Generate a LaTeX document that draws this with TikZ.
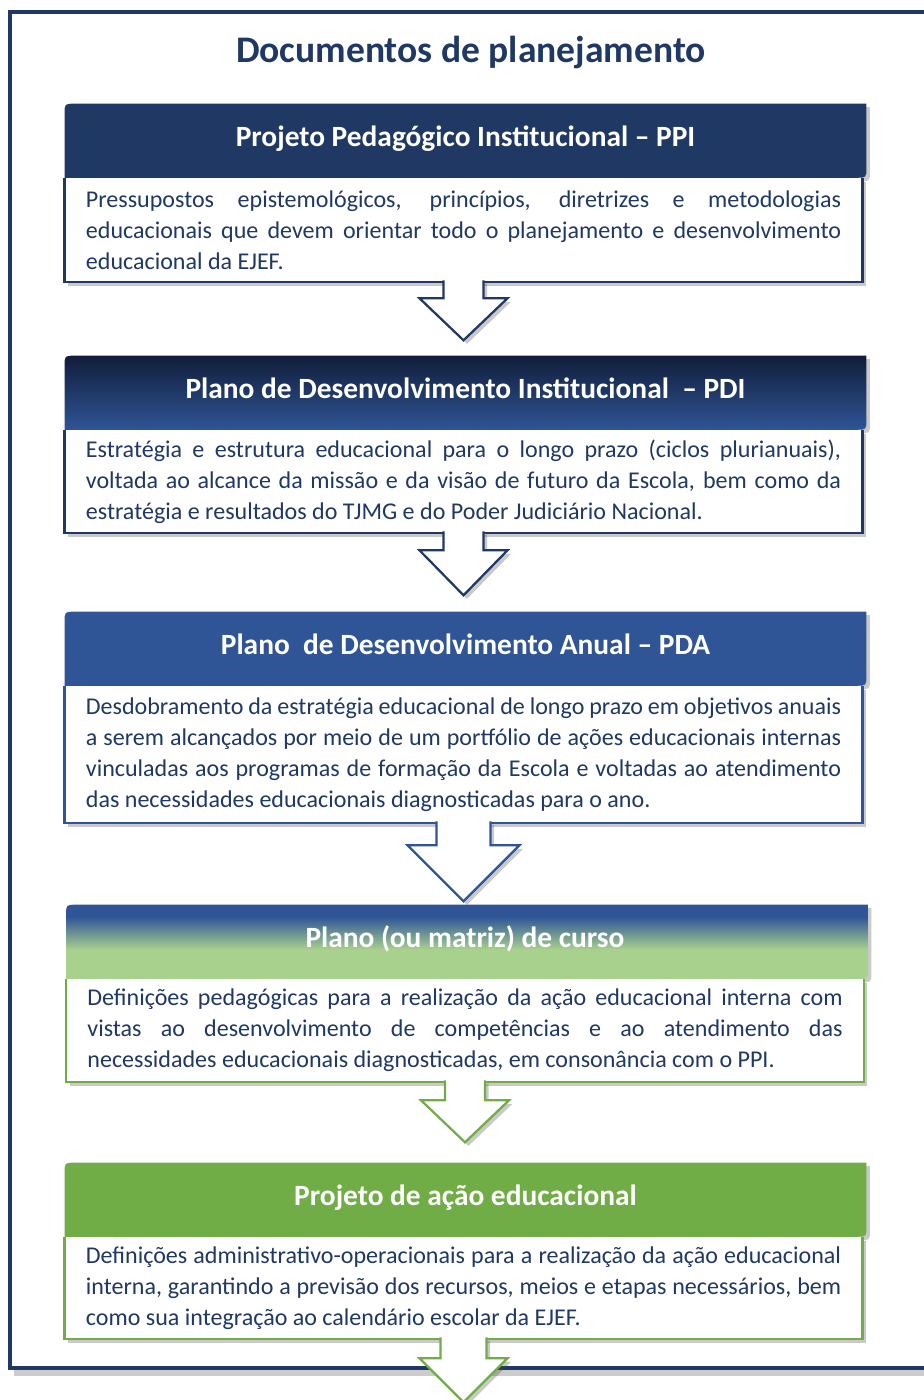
\documentclass[tikz,border=0pt]{standalone}
\usepackage{fontspec}
\setmainfont{Carlito}
\usepackage{tikz}
\usetikzlibrary{calc, shadows, backgrounds}
\definecolor{colNavy}{RGB}{31, 56, 100}
\definecolor{colDeep}{RGB}{17, 29, 58}
\definecolor{colBlue}{RGB}{47, 85, 151}
\definecolor{colGreen}{RGB}{112, 173, 71}
\definecolor{colLight}{RGB}{169, 209, 142}
\pgfdeclareverticalshading{capmix}{100bp}{color(0bp)=(colLight); color(45bp)=(colLight); color(67bp)=(colBlue); color(100bp)=(colBlue)}
\newcommand{\txtfont}{\fontsize{17.1}{22}\selectfont\hyphenpenalty=10000\exhyphenpenalty=10000}

\begin{document}
\begin{tikzpicture}[x=0.025cm, y=-0.025cm,
    soft/.style={drop shadow={shadow xshift=2.5pt, shadow yshift=-2.5pt, opacity=.3, fill=black!70}},
    docbox/.style={soft, fill=white, text=colNavy, text width=18.875cm, inner xsep=0.525cm,
        inner ysep=0pt, align=justify, font=\txtfont},
    captext/.style={white, font=\fontsize{20.9}{24}\selectfont\bfseries, anchor=base},
    ttl/.style={colNavy, font=\fontsize{26.7}{30}\selectfont\bfseries, anchor=base},
    capNavy/.style={soft, fill=colNavy},
    capDeep/.style={soft, top color=colDeep, bottom color=colBlue},
    capBlue/.style={soft, fill=colBlue},
    capMix/.style={soft, shading=capmix},
    capGreen/.style={soft, fill=colGreen},
    flow/.style={soft, draw=#1, fill=white, line width=1.6pt}
]
    \useasboundingbox (0,0) rectangle (924,1400);

    % --- Title ---
    \node[ttl] (title) at (471,63) {Documentos de planejamento};

    % --- Text boxes ---
    \node[docbox, minimum height=2.6cm] (b1) at (463.5,230) {Pressupostos epistemológicos, princípios, diretrizes e metodologias\linebreak educacionais que devem orientar todo o planejamento e desenvolvimento\linebreak educacional da EJEF.};
    \node[docbox, minimum height=2.575cm] (b2) at (463.5,481.5) {Estratégia e estrutura educacional para o longo prazo (ciclos plurianuais),\linebreak voltada ao alcance da missão e da visão de futuro da Escola, bem como da\linebreak estratégia e resultados do TJMG e do Poder Judiciário Nacional.};
    \node[docbox, minimum height=3.425cm] (b3) at (463.5,754.5) {Desdobramento da estratégia educacional de longo prazo em objetivos anuais\linebreak a serem alcançados por meio de um portfólio de ações educacionais internas\linebreak vinculadas aos programas de formação da Escola e voltadas ao atendimento\linebreak das necessidades educacionais diagnosticadas para o ano.};
    \node[docbox, minimum height=2.575cm] (b4) at (465,1030.5) {Definições pedagógicas para a realização da ação educacional interna com\linebreak vistas ao desenvolvimento de competências e ao atendimento das\linebreak necessidades educacionais diagnosticadas, em consonância com o PPI.};
    \node[docbox, minimum height=2.55cm] (b5) at (463.5,1288) {Definições administrativo-operacionais para a realização da ação educacional\linebreak interna, garantindo a previsão dos recursos, meios e etapas necessários, bem\linebreak como sua integração ao calendário escolar da EJEF.};

    % open borders (top edge hidden under the header)
    \foreach \bx/\col in {b1/colNavy, b2/colNavy, b3/colBlue, b4/colGreen, b5/colGreen} {
        \draw[\col, line width=1.6pt] (\bx.north west) -- (\bx.south west) -- (\bx.south east) -- (\bx.north east);
    }

    % --- Frame and header bars ---
    \begin{scope}[on background layer]
        \fill[black, opacity=.2] (14,1370) rectangle (960,1376);
        \draw[colNavy, line width=3pt] (10,12) rectangle (960,1368);
        \foreach \bx/\st in {b1/capNavy, b2/capDeep, b3/capBlue, b4/capMix, b5/capGreen} {
            \path[\st] ($(\bx.north west)+(0,1)$) -- ($(\bx.north west)+(0,-64)$)
                .. controls ($(\bx.north west)+(0,-74)$) .. ($(\bx.north west)+(10,-74)$)
                -- ($(\bx.north east)+(4,-74)$) -- ($(\bx.north east)+(4,-10)$)
                .. controls ($(\bx.north east)+(4,0)$) .. ($(\bx.north east)+(-6,0)$)
                -- ($(\bx.north east)+(0,1)$) -- cycle;
        }
    \end{scope}

    % --- Header texts ---
    \node[captext] (h1) at ($(b1.north)+(2,-31)$) {Projeto Pedagógico Institucional – PPI};
    \node[captext] (h2) at ($(b2.north)+(2,-31)$) {Plano de Desenvolvimento Institucional\ \ – PDI};
    \node[captext] (h3) at ($(b3.north)+(2,-31)$) {Plano\ \ de Desenvolvimento Anual – PDA};
    \node[captext] (h4) at ($(b4.north)+(0,-31)$) {Plano (ou matriz) de curso};
    \node[captext] (h5) at ($(b5.north)+(2,-31)$) {Projeto de ação educacional};

    % --- Block arrows ---
    \foreach \bx/\sw/\hw/\hd/\tl/\col in {b1/20/44/16/58/colNavy, b2/20/44/17/62/colNavy,
        b3/27/56/22/78/colBlue, b4/20/44/18/60/colGreen, b5/23/44/19/63/colGreen} {
        \draw[flow=\col] ($(\bx.south)+(-\sw,-2)$) -- ($(\bx.south)+(-\sw,\hd)$)
            -- ($(\bx.south)+(-\hw,\hd)$) -- ($(\bx.south)+(0,\tl)$)
            -- ($(\bx.south)+(\hw,\hd)$) -- ($(\bx.south)+(\sw,\hd)$)
            -- ($(\bx.south)+(\sw,-2)$);
    }
\end{tikzpicture}
\end{document}
